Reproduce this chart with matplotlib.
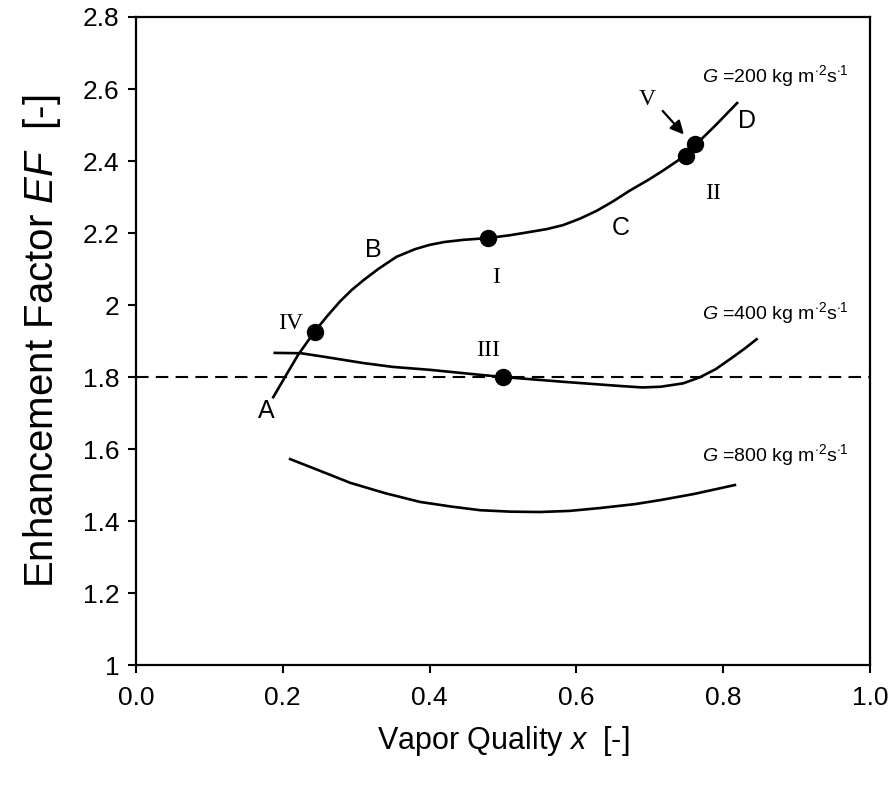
import matplotlib
matplotlib.use("Agg")
import matplotlib.pyplot as plt

plt.rcParams['font.family'] = ['Liberation Sans', 'DejaVu Sans']
plt.rcParams['mathtext.fontset'] = 'custom'
plt.rcParams['mathtext.rm'] = 'Liberation Sans'
plt.rcParams['mathtext.it'] = 'Liberation Sans:italic'

# G = 200 kg m-2 s-1
x200 = [0.187, 0.203, 0.221, 0.244, 0.26, 0.278, 0.294, 0.31, 0.33, 0.355, 0.38, 0.40,
        0.42, 0.446, 0.48, 0.51, 0.537, 0.56, 0.582, 0.605, 0.628, 0.65, 0.673, 0.70,
        0.72, 0.741, 0.749, 0.762, 0.79, 0.819]
y200 = [1.744, 1.800, 1.862, 1.928, 1.968, 2.010, 2.042, 2.069, 2.100, 2.134, 2.155, 2.167,
        2.175, 2.181, 2.186, 2.194, 2.203, 2.211, 2.222, 2.240, 2.262, 2.288, 2.318, 2.350,
        2.376, 2.405, 2.418, 2.444, 2.500, 2.561]
# G = 400
x400 = [0.189, 0.225, 0.26, 0.309, 0.35, 0.40, 0.469, 0.50, 0.537, 0.58, 0.62, 0.66,
        0.69, 0.715, 0.7457, 0.768, 0.79, 0.8138, 0.83, 0.8456]
y400 = [1.867, 1.866, 1.855, 1.839, 1.828, 1.82, 1.806, 1.80, 1.794, 1.787, 1.781, 1.775,
        1.771, 1.773, 1.7825, 1.799, 1.822, 1.856, 1.880, 1.905]
# G = 800
x800 = [0.21, 0.25, 0.292, 0.34, 0.387, 0.43, 0.469, 0.51, 0.55, 0.59, 0.632, 0.68,
        0.714, 0.76, 0.816]
y800 = [1.572, 1.54, 1.506, 1.477, 1.453, 1.44, 1.43, 1.426, 1.425, 1.428, 1.436, 1.447,
        1.458, 1.475, 1.50]

ef_ref = 1.8

# marked points
pt_names = ['I', 'II', 'III', 'IV', 'V']
pt_x = [0.48, 0.749, 0.50, 0.244, 0.762]
pt_y = [2.186, 2.415, 1.80, 1.925, 2.447]

# region letters
reg_names = ['A', 'B', 'C', 'D']
reg_x = [0.178, 0.324, 0.661, 0.832]
reg_y = [1.705, 2.152, 2.215, 2.51]

xticks = [0.0, 0.2, 0.4, 0.6, 0.8, 1.0]
xtlabels = ['0.0', '0.2', '0.4', '0.6', '0.8', '1.0']
yticks = [1.0, 1.2, 1.4, 1.6, 1.8, 2.0, 2.2, 2.4, 2.6, 2.8]
ytlabels = ['1', '1.2', '1.4', '1.6', '1.8', '2', '2.2', '2.4', '2.6', '2.8']

fig = plt.figure(figsize=(8.93, 7.87), dpi=100)
ax = fig.add_axes([0.1523, 0.155, 0.8219, 0.8234])

lw = 1.9
ax.plot(x200, y200, color='black', lw=lw)
ax.plot(x400, y400, color='black', lw=lw)
ax.plot(x800, y800, color='black', lw=lw)
ax.axhline(ef_ref, color='black', lw=1.5, ls=(0, (6, 3.5)))
ax.plot(pt_x, pt_y, 'o', color='black', ms=11.5, zorder=5)

serif = ['Liberation Serif', 'DejaVu Serif']
ax.text(0.21, 1.95, 'IV', family=serif, fontsize=17, ha='center', va='center')
ax.text(0.49, 2.076, 'I', family=serif, fontsize=17, ha='center', va='center')
ax.text(0.48, 1.875, 'III', family=serif, fontsize=17, ha='center', va='center')
ax.text(0.786, 2.31, 'II', family=serif, fontsize=17, ha='center', va='center')
ax.text(0.696, 2.57, 'V', family=serif, fontsize=17, ha='center', va='center')
ax.annotate('', xy=(0.749, 2.468), xytext=(0.715, 2.545),
            arrowprops=dict(arrowstyle='-|>', color='black', lw=1.6,
                            mutation_scale=20))

for n, xx, yy in zip(reg_names, reg_x, reg_y):
    ax.text(xx, yy, n, fontsize=18, ha='center', va='center')

gfs = 14
ax.text(0.771, 2.635, r'$\it{G}$ =200 kg m$^{\cdot 2}$s$^{\cdot 1}$', fontsize=gfs, ha='left', va='center')
ax.text(0.771, 1.978, r'$\it{G}$ =400 kg m$^{\cdot 2}$s$^{\cdot 1}$', fontsize=gfs, ha='left', va='center')
ax.text(0.771, 1.583, r'$\it{G}$ =800 kg m$^{\cdot 2}$s$^{\cdot 1}$', fontsize=gfs, ha='left', va='center')

ax.set_xlim(0, 1)
ax.set_ylim(1, 2.8)
ax.set_xticks(xticks)
ax.set_xticklabels(xtlabels)
ax.set_yticks(yticks)
ax.set_yticklabels(ytlabels)
ax.tick_params(direction='out', length=6, width=1.5, labelsize=19, pad=6)
ax.tick_params(axis='x', pad=9)
for s in ax.spines.values():
    s.set_linewidth(1.6)

ax.set_xlabel(r'Vapor Quality $\it{x}$  [-]', fontsize=22, labelpad=10)
ax.set_ylabel(r'Enhancement Factor $\it{EF}$  [-]', fontsize=29, labelpad=14)

fig.savefig('out.png', dpi=100)
